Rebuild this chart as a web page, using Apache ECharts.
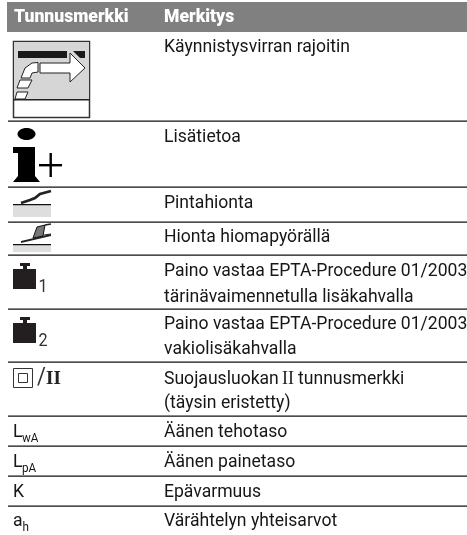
<!DOCTYPE html>
<html><head><meta charset="utf-8">
<style>html,body{margin:0;padding:0;background:#fff}#c{width:467px;height:535px}</style>
<script src="https://cdn.jsdelivr.net/npm/echarts@6/dist/echarts.min.js"></script>
</head><body><div id="c"></div>
<script>
var headers = ["Tunnusmerkki", "Merkitys"];
var meanings = [
  ["Käynnistysvirran rajoitin"],
  ["Lisätietoa"],
  ["Pintahionta"],
  ["Hionta hiomapyörällä"],
  ["Paino vastaa EPTA-Procedure 01/2003", "tärinävaimennetulla lisäkahvalla"],
  ["Paino vastaa EPTA-Procedure 01/2003", "vakiolisäkahvalla"],
  ["Suojausluokan II tunnusmerkki", "(täysin eristetty)"],
  ["Äänen tehotaso"],
  ["Äänen painetaso"],
  ["Epävarmuus"],
  ["Värähtelyn yhteisarvot"]
];
var symbolTexts = ["L", "L", "K", "a"];
var symbolSubs = ["wA", "pA", "", "h"];
var weightSubs = ["1", "2"];

// layout
var FONT = 'Roboto,sans-serif';
var SERIF = '"Liberation Serif",serif';
var INK = '#161616';
var SX = 0.95;
var rowRules = [121, 187, 222, 255, 309, 362, 416, 446, 476, 506];
var textY = [[47],[137],[203.5],[237],[271,297],[324,349.5],[379,403.5],[432],[462],[492],[521]];
var g = [];
function rect(x, y, w, h, fill, stroke, lw) { g.push({type:'rect', shape:{x:x,y:y,width:w,height:h}, style:{fill:fill||'none', stroke:stroke||null, lineWidth:lw||0}}); }
function poly(pts, fill, stroke, lw) { g.push({type:'polygon', shape:{points:pts}, style:{fill:fill||'none', stroke:stroke||null, lineWidth:lw||0}}); }
function pline(pts, stroke, lw) { g.push({type:'polyline', shape:{points:pts}, style:{fill:'none', stroke:stroke, lineWidth:lw}}); }
function text(s, x, y, size, opt) {
  opt = opt || {};
  g.push({type:'text', x:x, y:y, scaleX:opt.sx||1, style:{text:s, x:0, y:0, font:(opt.w||'normal')+' '+size+'px '+(opt.f||FONT), fill:opt.c||INK, align:'left', verticalAlign:'middle'}});
}
rect(7, 2, 460, 30, '#808080');
text(headers[0], 14, 17, 18.5, {w:'900', c:'#fff', sx:0.95});
text(headers[1], 164, 17, 18.5, {w:'900', c:'#fff', sx:0.95});
rowRules.forEach(function(y){ rect(8, y-0.5, 459, 1.2, '#111'); });
meanings.forEach(function(lines, i){
  lines.forEach(function(s, j){
    var y = textY[i][j];
    if (s.indexOf(' II ') >= 0) {
      var parts = s.split(' II ');
      text(parts[0], 164, y, 18.5, {sx:SX});
      text('II', 282, y+0.5, 18, {f:SERIF, c:'#222'});
      text(parts[1], 298, y, 18.5, {sx:SX});
    } else {
      text(s, 164, y, 18.5, {sx:SX});
    }
  });
});
// starter icon
rect(13.5, 41.5, 76, 76, '#fff', '#333', 1.5);
rect(14, 42, 75, 57, '#d6d6d6');
rect(13.5, 99, 76, 1.5, '#222');
rect(18, 51, 49, 7, '#1a1a1a');
poly([[73,51],[85,51],[85,58],[80,58]], '#1a1a1a');
poly([[40,63],[70,63],[70,53],[85,68],[70,82],[70,73],[40,73]], '#fff', '#222', 1);
poly([[38,62.5],[32,63],[25,68],[21,78],[30,78],[32,73],[38,72]], '#fff', '#222', 1);
poly([[20,80],[32,80],[28,88],[17,88]], '#fff', '#222', 1);
poly([[17,92],[28,92],[25,99],[15,99]], '#fff', '#222', 1);
// i+ icon
g.push({type:'ellipse', shape:{cx:26.5,cy:134,rx:9,ry:6}, style:{fill:'#000'}});
poly([[13,147],[35,147],[35,176],[40,182],[13,182],[18,176],[18,153],[13,153]], '#000');
rect(49.5, 153, 2.4, 24, '#000');
rect(39, 164, 23, 2.4, '#000');
// surface grinding icon
rect(13, 205, 38, 12, '#dedede');
rect(13, 204, 38, 1.3, '#111');
pline([[21,203],[30,200],[35,198],[40,194],[51,191]], '#222', 2.8);
// disc grinding icon
rect(13, 245, 38, 7, '#dedede');
rect(13, 244, 38, 1.3, '#111');
poly([[21,241],[51,234],[51,236],[21,243]], '#222');
poly([[37,227],[45,225],[43,236],[33,238]], '#777', '#111', 1);
pline([[45,225],[51,224]], '#222', 1.5);
pline([[44,235],[51,234]], '#222', 1.2);
// weights
[0, 54].forEach(function(dy, i){
  rect(13, 269+dy, 23, 20, '#231f20');
  rect(23, 266+dy, 4, 3, '#231f20');
  rect(20, 263+dy, 10, 3, '#231f20');
  text(weightSubs[i], 38.5, 287+dy, 18, {c:'#333', sx:0.9});
});
// protection class
rect(13.5, 368.5, 19, 19, 'none', '#333', 1);
rect(18.5, 373.5, 9, 9, 'none', '#333', 1);
text('/', 37, 378, 24, {f:FONT, sx:0.9, c:'#333'});
text('II', 46, 379, 19, {f:SERIF, w:'bold', c:'#222'});
// L, K, a
symbolTexts.forEach(function(s, i){
  text(s, 13, textY[7+i][0], 18.5, {sx:SX});
  if (symbolSubs[i]) text(symbolSubs[i], s==='a'?22.5:22, textY[7+i][0]+6.5, 13, {sx:0.9});
});
var chart = echarts.init(document.getElementById('c'), null, {renderer:'canvas', width:467, height:535});
chart.setOption({animation:false, backgroundColor:'#fff', graphic:{elements:g}});
</script></body></html>
